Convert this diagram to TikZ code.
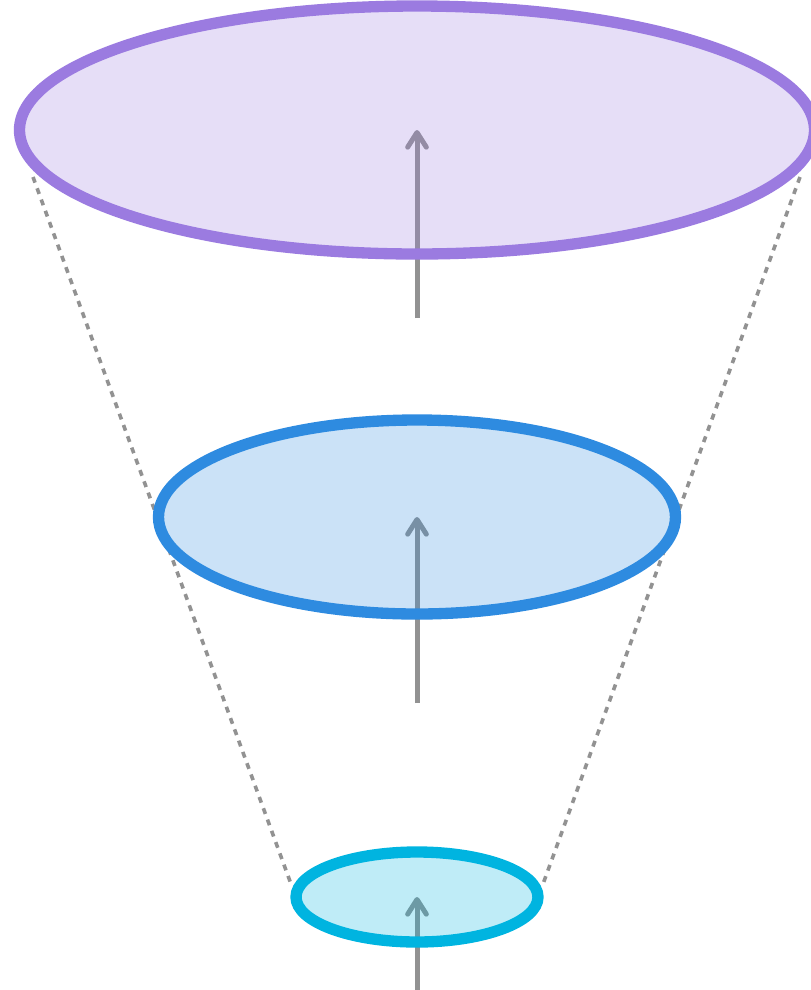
\documentclass[tikz,border=0pt]{standalone}
\usetikzlibrary{shapes.geometric,arrows.meta}
\pgfdeclarelayer{bg}
\pgfsetlayers{bg,main}
\definecolor{cpurple}{HTML}{9B7BE0}
\definecolor{cblue}{HTML}{2E8BE0}
\definecolor{ccyan}{HTML}{00B4E0}
\definecolor{cgray}{HTML}{929292}
\begin{document}
\begin{tikzpicture}[x=0.75pt,y=-0.75pt,
  ring/.style={ellipse,draw=#1,fill=#1,fill opacity=0.25,draw opacity=1,line width=8.5pt,inner sep=0pt,outer sep=0pt},
  uparrow/.style={draw=cgray,line width=3.75pt,-{Straight Barb[length=11pt,width=14pt,line cap=round,line join=round]}},
  guide/.style={draw=cgray,line width=2.7pt,dash pattern=on 4.5pt off 4.5pt}]
\useasboundingbox (0,0) rectangle (811,990);
\node[ring=cpurple,minimum width=795pt*0.75,minimum height=248pt*0.75] (top) at (417,130) {};
\node[ring=cblue,minimum width=517pt*0.75,minimum height=194pt*0.75] (mid) at (417,517) {};
\node[ring=ccyan,minimum width=242pt*0.75,minimum height=90pt*0.75] (bot) at (417,897) {};
\coordinate (a1) at (417,318);
\coordinate (a2) at (417,703);
\coordinate (a3) at (417,992);
\coordinate (lt) at (33,177);
\coordinate (lb) at (291,884);
\coordinate (rt) at (800,177);
\coordinate (rb) at (543,884);
\begin{pgfonlayer}{bg}
\draw[guide] (lt) -- (lb);
\draw[guide] (rt) -- (rb);
\draw[uparrow] (a1) -- (top.center);
\draw[uparrow] (a2) -- (mid.center);
\draw[uparrow] (a3) -- (bot.center);
\end{pgfonlayer}
\end{tikzpicture}
\end{document}
